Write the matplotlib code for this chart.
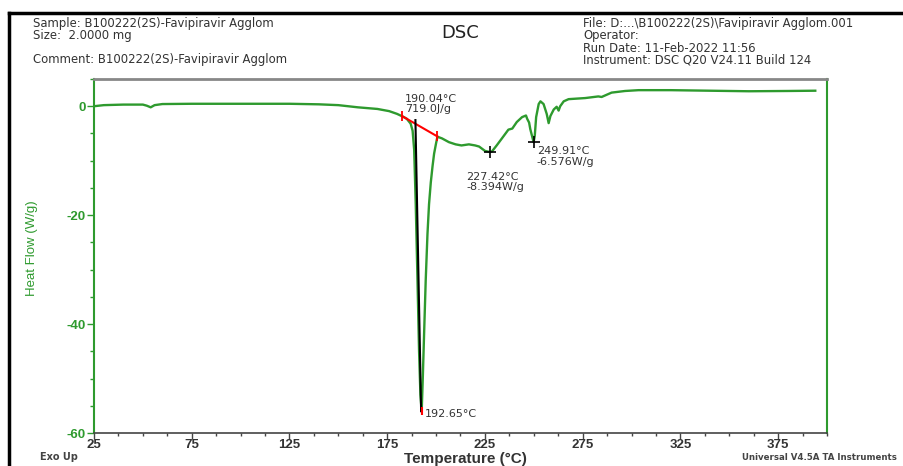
import numpy as np
import matplotlib.pyplot as plt
from matplotlib.ticker import MultipleLocator, FixedLocator

plt.rcParams['axes.unicode_minus'] = False

# DSC trace (temperature [°C], heat flow [W/g])
temp = [25, 30, 40, 50, 52, 54, 56, 60, 75, 100, 125, 140, 150, 160, 170, 176,
        180, 183, 185, 187, 188, 188.8, 189.6, 190.5, 191.3, 192.0, 192.65,
        193.2, 193.9, 194.7, 195.6, 196.4, 197.3, 198.2, 199, 200, 200.7, 203,
        206.6, 210, 213, 216.8, 220, 222, 223.5, 225, 227.4, 228.6, 231, 233.7,
        237, 239, 241.3, 244, 246, 246.6, 247.6, 248.2, 249.9, 250.5, 251.2,
        252.5, 253.4, 255, 256.6, 257.6, 258.5, 260.2, 261.7, 262.7, 263.5,
        265.3, 267.8, 276.3, 283, 284.7, 289.8, 296.7, 303.6, 320, 340, 360,
        380, 394]
heat_flow = [0.0, 0.2, 0.3, 0.3, 0.1, -0.2, 0.2, 0.4, 0.45, 0.45, 0.45, 0.35,
             0.2, -0.2, -0.5, -0.9, -1.4, -1.9, -2.3, -3.2, -4.5, -8.0, -18,
             -32, -45, -53, -56, -50, -41.5, -32, -23.5, -18, -14, -11, -8.7,
             -6.8, -5.6, -5.9, -6.6, -7.0, -7.2, -7.0, -7.2, -7.4, -7.8, -8.2,
             -8.4, -8.3, -7.2, -5.9, -4.3, -4.1, -2.9, -2.0, -1.7, -2.3, -3.0,
             -4.2, -6.6, -5.4, -2.0, 0.4, 0.9, 0.4, -1.4, -3.1, -1.8, -0.6,
             -0.1, -0.8, 0.0, 0.9, 1.3, 1.5, 1.8, 1.7, 2.5, 2.8, 2.95, 2.95,
             2.85, 2.75, 2.8, 2.85]

# peak integration: baseline limits, onset and peak
base_T = [182.8, 200.7]
base_hf = [-1.85, -5.55]
onset_T = 190.04
peak_T, peak_hf = 192.65, -56.0
enthalpy = 719.0
min1_T, min1_hf = 227.42, -8.394
min2_T, min2_hf = 249.91, -6.576

left_header = ["Sample: B100222(2S)-Favipiravir Agglom", "Size:  2.0000 mg"]
comment = "Comment: B100222(2S)-Favipiravir Agglom"
right_header = ["File: D:...\\B100222(2S)\\Favipiravir Agglom.001", "Operator:",
                "Run Date: 11-Feb-2022 11:56", "Instrument: DSC Q20 V24.11 Build 124"]

green = '#2e9a2e'
gray = '#444444'
txt = '#333333'
W, H = 904, 466

fig = plt.figure(figsize=(9.04, 4.66), dpi=100)
ax = fig.add_axes([94/W, 1-433/H, (827-94)/W, (433-79)/H])

ax.plot(temp, heat_flow, color=green, lw=1.7, zorder=3)

# baseline and onset construction
ax.plot(base_T, base_hf, color='red', lw=1.5, zorder=4)
ax.plot(base_T, base_hf, ls='none', marker='|', ms=7, mew=1.3, color='red', zorder=5)
onset_hf = np.interp(onset_T, base_T, base_hf)
ax.plot([onset_T - 0.6, peak_T - 0.3], [onset_hf + 0.8, peak_hf], color='black', lw=1.5, zorder=4)
ax.plot([peak_T], [peak_hf], ls='none', marker='|', ms=6, mew=1.5, color='red', zorder=5)
ax.plot([min1_T, min2_T], [min1_hf, min2_hf], ls='none', marker='+', ms=9, mew=1.2,
        color='black', zorder=5)

ann = dict(fontsize=8, color=txt, family='DejaVu Sans', va='top', ha='left', linespacing=1.05)
ax.text(184, 2.3, f"{onset_T:.2f}°C\n{enthalpy:.1f}J/g", **ann)
ax.text(min1_T - 12, min1_hf - 3.6, f"{min1_T:.2f}°C\n{min1_hf:.3f}W/g", **ann)
ax.text(min2_T + 1.6, min2_hf - 0.8, f"{min2_T:.2f}°C\n{min2_hf:.3f}W/g", **ann)
ax.text(peak_T + 1.6, peak_hf - 0.5, f"{peak_T:.2f}°C", fontsize=8, color=txt,
        family='DejaVu Sans', va='center', ha='left')

ax.set_xlim(25, 400)
ax.set_ylim(-60, 5)
ax.xaxis.set_major_locator(FixedLocator(np.arange(25, 376, 50)))
ax.xaxis.set_minor_locator(MultipleLocator(12.5))
ax.yaxis.set_major_locator(MultipleLocator(20))
ax.yaxis.set_minor_locator(MultipleLocator(5))

ax.tick_params(axis='x', which='major', direction='out', length=4, width=1,
               colors=gray, labelsize=9.5, pad=0, labelcolor=txt)
ax.tick_params(axis='x', which='minor', direction='out', length=2.5, width=1, colors=gray)
ax.tick_params(axis='y', which='major', direction='out', length=5, width=1,
               colors=green, labelsize=9.5, pad=1)
ax.tick_params(axis='y', which='minor', direction='out', length=3, width=1, colors=green)
for lab in ax.get_xticklabels() + ax.get_yticklabels():
    lab.set_family('Liberation Sans')
    lab.set_fontweight('bold')

ax.spines['left'].set_color(green)
ax.spines['right'].set_color(green)
ax.spines['left'].set_linewidth(1.5)
ax.spines['right'].set_linewidth(1.5)
ax.spines['top'].set_color('#888888')
ax.spines['top'].set_linewidth(2)
ax.spines['bottom'].set_color(gray)
ax.spines['bottom'].set_linewidth(1.2)

# axis titles
fig.text(32/W, 1-248/H, "Heat Flow (W/g)", rotation=90, color=green, fontsize=9.5,
         family='Liberation Sans', ha='center', va='center')
fig.text(465/W, 1-459/H, "Temperature (°C)", color=txt, fontsize=11,
         family='Liberation Sans', fontweight='bold', ha='center', va='center')

# header block
hdr = dict(fontsize=8.4, color=txt, family='DejaVu Sans', va='center', ha='left')
for i, line in enumerate(left_header):
    fig.text(33/W, 1-(24 + 12*i)/H, line, **hdr)
fig.text(33/W, 1-60/H, comment, **hdr)
for i, line in enumerate(right_header):
    fig.text(583/W, 1-(24 + 12*i)/H, line, **hdr)
fig.text(460/W, 1-33/H, "DSC", fontsize=13, color='#222222', family='DejaVu Sans',
         ha='center', va='center')
fig.text(40/W, 1-457/H, "Exo Up", fontsize=7, color=gray, family='DejaVu Sans',
         fontweight='bold', ha='left', va='center')
fig.text(742/W, 1-457/H, "Universal V4.5A TA Instruments", fontsize=6.2, color=gray,
         family='DejaVu Sans', fontweight='bold', ha='left', va='center')

# outer frame (left and top edges visible)
fig.add_artist(plt.Line2D([9/W, 9/W], [0, 1-13/H], color='black', lw=2.5))
fig.add_artist(plt.Line2D([9/W, 1], [1-13/H, 1-13/H], color='black', lw=2.5))

fig.savefig("out.png", dpi=100)
